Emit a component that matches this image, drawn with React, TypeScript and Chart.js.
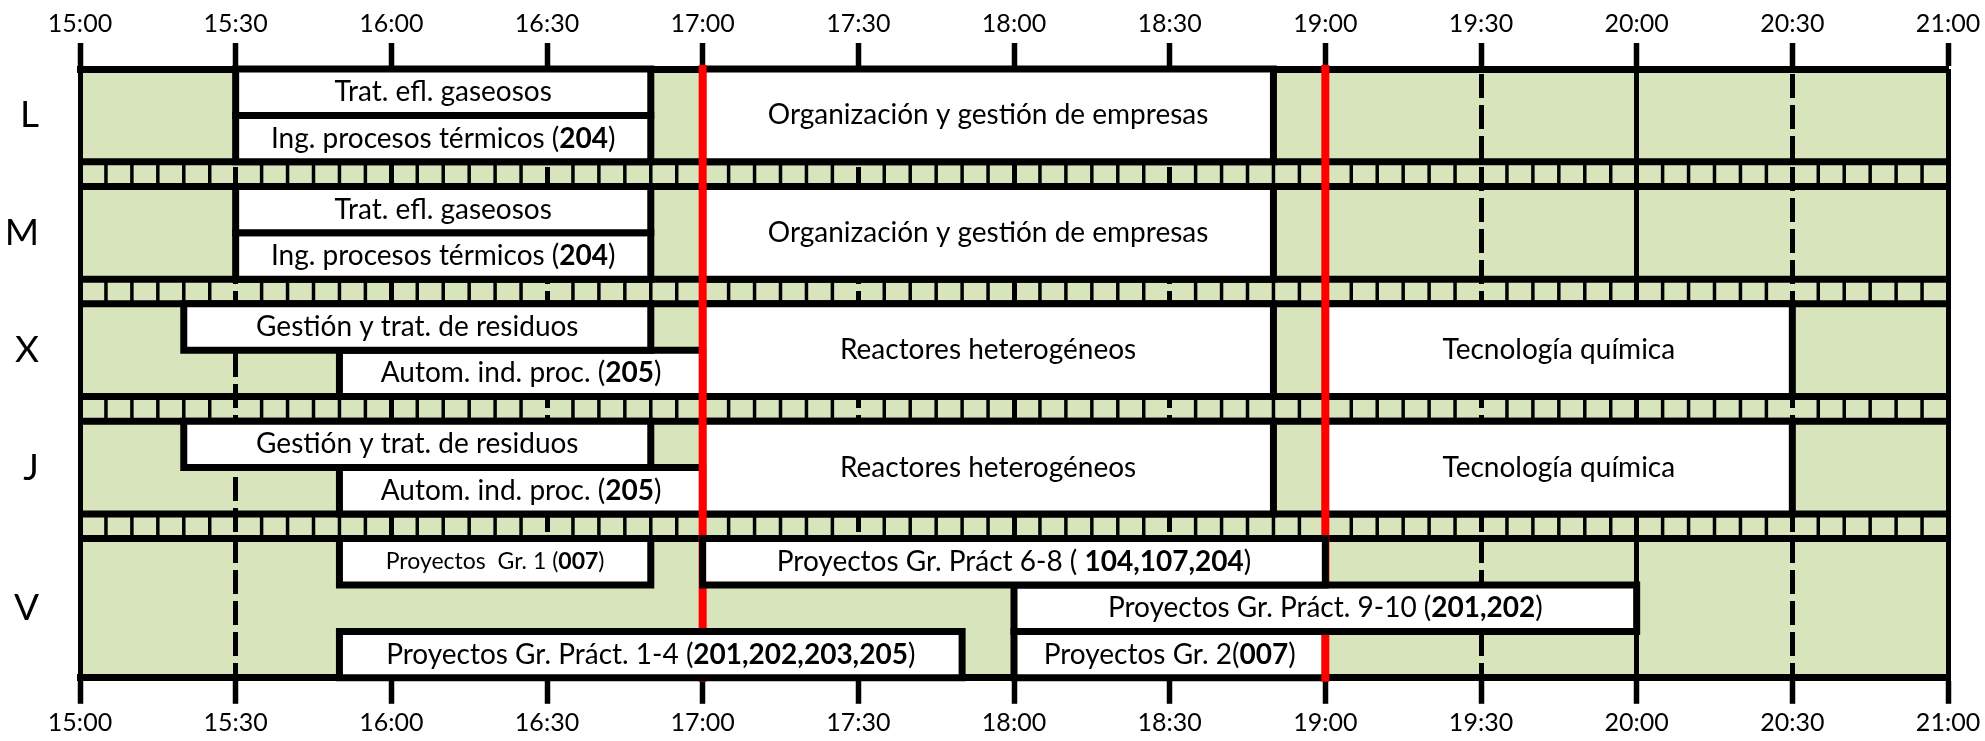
import React, { useEffect, useRef } from "react";
import { Chart, registerables } from "chart.js";

Chart.register(...registerables);

// ---------------- data ----------------
const days = ["L", "M", "X", "J", "V"];
const daySubRows = [2, 2, 2, 2, 3];
const timeTicks = [
  "15:00", "15:30", "16:00", "16:30", "17:00", "17:30", "18:00",
  "18:30", "19:00", "19:30", "20:00", "20:30", "21:00",
];
const redLineTimes = ["17:00", "19:00"];

const courseLabels = [
  "Trat. efl. gaseosos",
  "Ing. procesos térmicos (**204**)",
  "Organización y gestión de empresas",
  "Trat. efl. gaseosos",
  "Ing. procesos térmicos (**204**)",
  "Organización y gestión de empresas",
  "Gestión y trat. de residuos",
  "Autom. ind. proc. (**205**)",
  "Reactores heterogéneos",
  "Tecnología química",
  "Gestión y trat. de residuos",
  "Autom. ind. proc. (**205**)",
  "Reactores heterogéneos",
  "Tecnología química",
  "Proyectos  Gr. 1 (**007**)",
  "Proyectos Gr. Práct 6-8 ( **104,107,204**)",
  "Proyectos Gr. Práct. 9-10 (**201,202**)",
  "Proyectos Gr. Práct. 1-4 (**201,202,203,205**)",
  "Proyectos Gr. 2(**007**)",
];
const courseDay = [0, 0, 0, 1, 1, 1, 2, 2, 2, 2, 3, 3, 3, 3, 4, 4, 4, 4, 4];
const courseSlot = [0, 1, 0, 0, 1, 0, 0, 1, 0, 0, 0, 1, 0, 0, 0, 0, 1, 2, 2];
const courseSlotSpan = [1, 1, 2, 1, 1, 2, 1, 1, 2, 2, 1, 1, 2, 2, 1, 1, 1, 1, 1];
const courseStart = [
  "15:30", "15:30", "17:00",
  "15:30", "15:30", "17:00",
  "15:20", "15:50", "17:00", "19:00",
  "15:20", "15:50", "17:00", "19:00",
  "15:50", "17:00", "18:00", "15:50", "18:00",
];
const courseEnd = [
  "16:50", "16:50", "18:50",
  "16:50", "16:50", "18:50",
  "16:50", "17:00", "18:50", "20:30",
  "16:50", "17:00", "18:50", "20:30",
  "16:50", "19:00", "20:00", "17:50", "19:00",
];
// courses whose boxes are drawn above the red markers
const coursesOverRed = [15, 16, 17];
// courses written in a smaller type
const smallLabelCourses = [14];

// empty (green) slot between the Friday courses, which hides the grid
const freeDay = [4];
const freeSlot = [1];
const freeStart = ["15:50"];
const freeEnd = ["18:00"];

// ---------------- style ----------------
const FONT = "Lato, 'Open Sans', sans-serif";
const GREEN = "#d8e4bc";
const BAND = 0.53; // separator band height, in sub-row units
const BAND_TICK_STEP = 5; // minutes

const toMin = (t: string) => {
  const [h, m] = t.split(":").map(Number);
  return h * 60 + m;
};

const dayTop: number[] = [];
(() => {
  let acc = 0;
  daySubRows.forEach((n) => {
    dayTop.push(acc);
    acc += n + BAND;
  });
})();
const totalUnits = dayTop[dayTop.length - 1] + daySubRows[daySubRows.length - 1];
const dayCenters = days.map((_, i) => dayTop[i] + daySubRows[i] / 2);
const xMin = toMin(timeTicks[0]);
const xMax = toMin(timeTicks[timeTicks.length - 1]);

function drawRich(ctx: CanvasRenderingContext2D, text: string, cx: number, cy: number, size: number) {
  const parts = text.split("**");
  const fonts = parts.map((_, i) => `${i % 2 ? "bold " : ""}${size}px ${FONT}`);
  let total = 0;
  const widths = parts.map((p, i) => {
    ctx.font = fonts[i];
    const w = ctx.measureText(p).width;
    total += w;
    return w;
  });
  let x = cx - total / 2;
  ctx.textAlign = "left";
  ctx.textBaseline = "middle";
  ctx.fillStyle = "#000";
  parts.forEach((p, i) => {
    ctx.font = fonts[i];
    ctx.fillText(p, x, cy);
    x += widths[i];
  });
}

const timetablePlugin = {
  id: "timetable",
  beforeDraw(chart: any) {
    const { ctx, chartArea: a, scales } = chart;
    const x = scales.x;
    const y = scales.y;
    ctx.save();
    ctx.fillStyle = GREEN;
    ctx.fillRect(a.left, a.top, a.right - a.left, a.bottom - a.top);
    ctx.strokeStyle = "#000";
    for (let d = 0; d < days.length - 1; d++) {
      const y0 = y.getPixelForValue(dayTop[d] + daySubRows[d]);
      const y1 = y.getPixelForValue(dayTop[d + 1]);
      ctx.lineWidth = 3.5;
      for (let m = xMin + BAND_TICK_STEP; m < xMax; m += BAND_TICK_STEP) {
        if (m % 30 === 0) continue;
        const px = x.getPixelForValue(m);
        ctx.beginPath();
        ctx.moveTo(px, y0);
        ctx.lineTo(px, y1);
        ctx.stroke();
      }
      ctx.lineWidth = 7;
      [y0, y1].forEach((py) => {
        ctx.beginPath();
        ctx.moveTo(a.left, py);
        ctx.lineTo(a.right, py);
        ctx.stroke();
      });
    }
    ctx.restore();
  },
  afterDraw(chart: any) {
    const { ctx, scales } = chart;
    const x = scales.x;
    const y = scales.y;
    ctx.save();
    courseLabels.forEach((label, i) => {
      const cx = (x.getPixelForValue(toMin(courseStart[i])) + x.getPixelForValue(toMin(courseEnd[i]))) / 2;
      const top = dayTop[courseDay[i]] + courseSlot[i];
      const cy = y.getPixelForValue(top + courseSlotSpan[i] / 2);
      const size = smallLabelCourses.includes(i) ? 23 : 28;
      drawRich(ctx, label, cx, cy, size);
    });
    ctx.restore();
  },
};

const rectPoints = (x0: number, x1: number, y0: number, y1: number) => [
  { x: x0, y: y0 },
  { x: x1, y: y0 },
  { x: x1, y: y1 },
  { x: x0, y: y1 },
  { x: x0, y: y0 },
];

export default function App() {
  const ref = useRef<HTMLCanvasElement | null>(null);

  useEffect(() => {
    if (!ref.current) return;

    const freeDatasets = freeDay.map((d, i) => {
      const y0 = dayTop[d] + freeSlot[i];
      return {
        type: "line",
        data: rectPoints(toMin(freeStart[i]), toMin(freeEnd[i]), y0, y0 + 1),
        borderWidth: 0,
        borderColor: GREEN,
        backgroundColor: GREEN,
        fill: "shape",
        pointRadius: 0,
        tension: 0,
        clip: false,
        order: 5,
        xAxisID: "x",
        yAxisID: "y",
      };
    });

    const boxDatasets = courseLabels.map((_, i) => {
      const x0 = toMin(courseStart[i]);
      const x1 = toMin(courseEnd[i]);
      const y0 = dayTop[courseDay[i]] + courseSlot[i];
      const y1 = y0 + courseSlotSpan[i];
      return {
        type: "line",
        data: rectPoints(x0, x1, y0, y1),
        borderColor: "#000",
        borderWidth: 7,
        backgroundColor: "#fff",
        fill: "shape",
        pointRadius: 0,
        tension: 0,
        borderJoinStyle: "miter",
        borderCapStyle: "square",
        clip: false,
        order: coursesOverRed.includes(i) ? 1 : 3,
        xAxisID: "x",
        yAxisID: "y",
      };
    });

    const redDatasets = redLineTimes.map((t) => ({
      type: "line",
      data: [
        { x: toMin(t), y: 0 },
        { x: toMin(t), y: totalUnits },
      ],
      borderColor: "#ff0000",
      borderWidth: 8,
      fill: false,
      pointRadius: 0,
      borderCapStyle: "square",
      clip: false,
      order: 2,
      xAxisID: "x",
      yAxisID: "y",
    }));

    const tickValues = timeTicks.map((t) => ({ value: toMin(t) }));
    const tickLabel = (v: any) => {
      const idx = timeTicks.findIndex((t) => toMin(t) === v);
      return idx >= 0 ? timeTicks[idx] : "";
    };

    const xCommon = {
      type: "linear",
      min: xMin,
      max: xMax,
      afterBuildTicks: (s: any) => {
        s.ticks = tickValues.map((t) => ({ ...t }));
      },
      ticks: {
        callback: tickLabel,
        color: "#000",
        font: { family: FONT, size: 25 },
        padding: 4,
        maxRotation: 0,
        autoSkip: false,
      },
    };

    const chart = new Chart(ref.current, {
      type: "line",
      data: { datasets: [...freeDatasets, ...boxDatasets, ...redDatasets] as any },
      plugins: [timetablePlugin],
      options: {
        responsive: false,
        animation: false,
        events: [],
        layout: { padding: { left: 0, right: 37, top: 0, bottom: 0 } },
        plugins: {
          legend: { display: false },
          tooltip: { enabled: false },
        },
        scales: {
          x: {
            ...xCommon,
            position: "bottom",
            afterFit: (s: any) => {
              s.height = 58;
            },
            grid: {
              display: true,
              drawOnChartArea: true,
              drawTicks: true,
              color: "#000",
              lineWidth: 5,
              tickLength: 26,
              tickWidth: 5.5,
              tickColor: "#000",
            },
            border: {
              display: true,
              color: "#000",
              width: 7,
              dash: (c: any) => (c.tick && c.tick.value % 60 !== 0 ? [24, 7] : []),
              dashOffset: 26,
            },
          },
          x2: {
            ...xCommon,
            position: "top",
            afterFit: (s: any) => {
              s.height = 69;
            },
            grid: {
              display: true,
              drawOnChartArea: false,
              drawTicks: true,
              color: "#000",
              tickLength: 26,
              tickWidth: 5.5,
              tickColor: "#000",
            },
            border: { display: true, color: "#000", width: 7 },
          },
          y: {
            type: "linear",
            min: 0,
            max: totalUnits,
            reverse: true,
            afterBuildTicks: (s: any) => {
              s.ticks = dayCenters.map((v) => ({ value: v }));
            },
            afterFit: (s: any) => {
              s.width = 80;
            },
            grid: { display: false, drawTicks: false },
            border: { display: false },
            ticks: {
              callback: (v: any) => {
                const idx = dayCenters.indexOf(v);
                return idx >= 0 ? days[idx] : "";
              },
              color: "#000",
              font: { family: FONT, size: 37 },
              padding: 41,
              autoSkip: false,
            },
          },
        },
      } as any,
    });

    return () => chart.destroy();
  }, []);

  return (
    <div style={{ position: "fixed", left: 0, top: 0, width: 1985, height: 741, background: "#fff" }}>
      <canvas ref={ref} width={1985} height={741} style={{ display: "block" }} />
    </div>
  );
}
